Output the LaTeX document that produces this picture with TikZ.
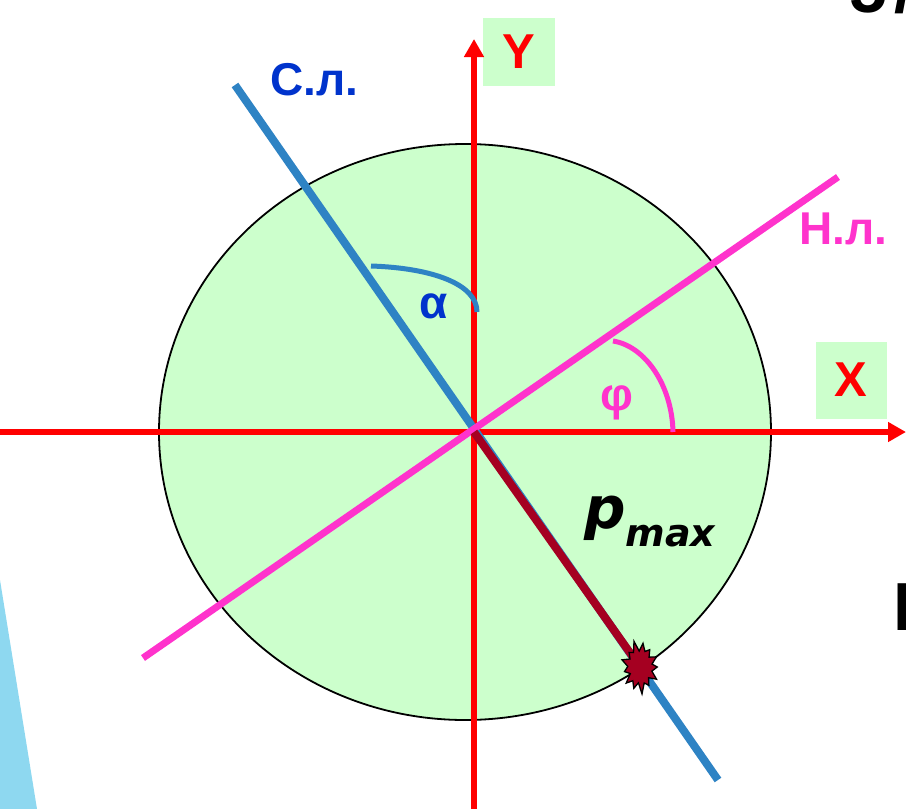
\documentclass[tikz,border=0pt]{standalone}
\usepackage{fontspec}
\setmainfont{Liberation Sans}
\newfontfamily\pfont{DejaVu Sans}
\usepackage{xcolor}
\usetikzlibrary{arrows.meta, positioning}

\definecolor{lightgreen}{HTML}{CCFFCC}
\definecolor{axisred}{HTML}{FF0000}
\definecolor{sblue}{HTML}{2E83C4}
\definecolor{sbluedark}{HTML}{0033CC}
\definecolor{npink}{HTML}{FF33CC}
\definecolor{pred}{HTML}{A50021}
\definecolor{sidecyan}{HTML}{8ED8F0}

\begin{document}
\begin{tikzpicture}[
  x = 1pt, y = -1pt,
  axis/.style    = {draw=axisred, line width=5.5pt, -{Triangle[length=18pt, width=19pt]}},
  sline/.style   = {draw=sblue, line width=8pt},
  nline/.style   = {draw=npink, line width=7pt},
  pline/.style   = {draw=pred, line width=8pt},
  anglearc/.style= {line width=5pt},
  lbl/.style     = {font=\fontsize{46}{46}\selectfont\bfseries, inner sep=0pt},
  axbox/.style   = {fill=lightgreen, inner sep=0pt, text=axisred,
                    font=\fontsize{49}{49}\selectfont\bfseries},
  burst/.style   = {fill=pred, draw=black, line width=1.3pt, line join=miter},
  cutoff/.style  = {font=\fontsize{68}{68}\selectfont\bfseries, inner sep=0pt, anchor=base west}
]
\useasboundingbox (0,0) rectangle (906,809);
\clip (0,0) rectangle (906,809);

% ── Fragments of the slide around the figure ─────────────────────────────────
\fill[sidecyan] (0,580) -- (37,809) -- (0,809) -- cycle;
\node[cutoff] (topfrag)   at (849,12)  {5\kern8pt/};
\node[cutoff] (rightfrag) at (893,630) {I};

% ── Section ellipse ───────────────────────────────────────────────────────────
\draw[black, line width=1.8pt, fill=lightgreen] (465,432) ellipse [x radius=306pt, y radius=288pt];

% ── Axis labels ───────────────────────────────────────────────────────────────
\node[axbox, minimum width=72pt, minimum height=68pt] (ybox) at (519,52)  {Y};
\node[axbox, minimum width=71pt, minimum height=77pt] (xbox) at (851,380) {X};

% ── Points ────────────────────────────────────────────────────────────────────
\coordinate (O)     at (474,432);
\coordinate (xfrom) at (0,432);
\coordinate (xto)   at (906,432);
\coordinate (yfrom) at (474,809);
\coordinate (yto)   at (474,39);
\coordinate (stop)  at (235,85);
\coordinate (sbot)  at (718,780);
\coordinate (nlow)  at (143,658);
\coordinate (nhigh) at (838,177);
\coordinate (pmaxpt) at (640,667);

% ── Axes ──────────────────────────────────────────────────────────────────────
\draw[axis] (xfrom) -- (xto);
\draw[axis] (yfrom) -- (yto);

% ── Force line and neutral line ───────────────────────────────────────────────
\draw[sline] (stop) -- (sbot);
\draw[nline] (nlow) -- (nhigh);

% ── Point of max stress ───────────────────────────────────────────────────────
\draw[pline] (O) -- (pmaxpt);
\begin{scope}[shift={(pmaxpt)}, xscale=0.72]
  \draw[burst] (0:24)
    \foreach \a/\r in {14/17, 28/26, 42/16, 56/22, 70/17, 84/27, 98/16, 112/23,
                       126/17, 140/25, 154/15, 168/22, 182/17, 196/26, 210/16,
                       224/21, 238/17, 252/27, 266/16, 280/24, 294/17, 308/22,
                       322/16, 336/25, 350/17} { -- (\a:\r) } -- cycle;
\end{scope}

% ── Angles ────────────────────────────────────────────────────────────────────
\draw[anglearc, sblue] (371,266) .. controls (432,268) and (477,284) .. (477,312);
\draw[anglearc, npink] (613,341) .. controls (645,346) and (672,385) .. (673,432);

% ── Labels ────────────────────────────────────────────────────────────────────
\node[lbl, text=sbluedark] (slabel)  at (314,80)  {С.л.};
\node[lbl, text=npink]     (nlabel)  at (843,229) {Н.л.};
\node[lbl, text=sbluedark] (alabel)  at (434,306) {α};
\node[lbl, text=npink]     (phlabel) at (617,403) {φ};
\node[inner sep=0pt, anchor=base west, font=\pfont\bfseries\itshape] (pmax) at (584,528)
      {\fontsize{58}{58}\selectfont p\raisebox{-18pt}{\fontsize{38}{38}\selectfont max}};
\end{tikzpicture}
\end{document}
